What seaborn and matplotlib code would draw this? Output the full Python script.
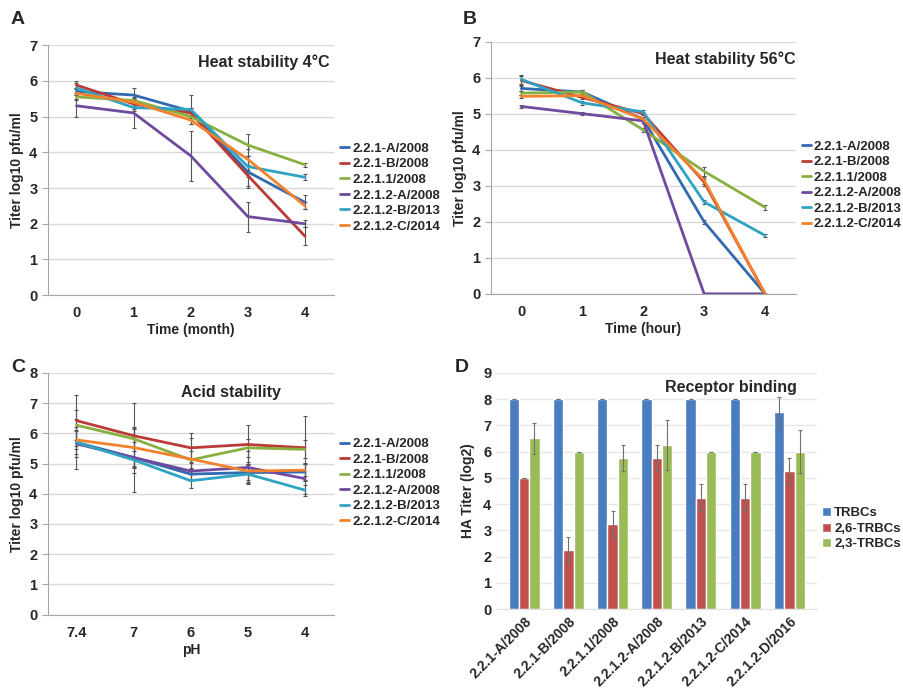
import matplotlib
matplotlib.use("Agg")
import matplotlib.pyplot as plt
import numpy as np
import pandas as pd
import seaborn as sns

# ---- data ----
strains = ['2.2.1-A/2008', '2.2.1-B/2008', '2.2.1.1/2008',
           '2.2.1.2-A/2008', '2.2.1.2-B/2013', '2.2.1.2-C/2014']
line_colors = ['#3269B0', '#BC3A36', '#88B040', '#6F4A9E', '#2FA4C2', '#F2822B']

months = ['0', '1', '2', '3', '4']
heat4 = [
    [5.70, 5.60, 5.15, 3.45, 2.60],
    [5.88, 5.35, 5.10, 3.35, 1.65],
    [5.55, 5.45, 5.00, 4.20, 3.65],
    [5.30, 5.10, 3.90, 2.20, 2.00],
    [5.80, 5.25, 5.20, 3.60, 3.30],
    [5.65, 5.40, 4.90, 3.80, 2.50],
]
heat4_err = [
    [0.10, 0.20, 0.10, 0.45, 0.20],
    [0.10, 0.15, 0.15, 0.30, 0.25],
    [0.10, 0.10, 0.10, 0.30, 0.05],
    [0.30, 0.42, 0.70, 0.42, 0.10],
    [0.15, 0.10, 0.40, 0.30, 0.08],
    [0.15, 0.10, 0.10, 0.30, 0.10],
]

hours = ['0', '1', '2', '3', '4']
heat56 = [
    [5.70, 5.60, 4.85, 2.00, 0.00],
    [5.92, 5.45, 5.00, 3.10, 0.00],
    [5.57, 5.60, 4.55, 3.40, 2.40],
    [5.20, 5.00, 4.80, 0.00, 0.00],
    [5.95, 5.30, 5.05, 2.55, 1.62],
    [5.48, 5.50, 4.85, 3.15, 0.00],
]
heat56_err = [
    [0.08, 0.05, 0.05, 0.05, 0.00],
    [0.12, 0.05, 0.05, 0.10, 0.00],
    [0.05, 0.05, 0.05, 0.12, 0.06],
    [0.05, 0.05, 0.05, 0.00, 0.00],
    [0.12, 0.05, 0.05, 0.05, 0.05],
    [0.05, 0.05, 0.05, 0.10, 0.00],
]

ph = ['7.4', '7', '6', '5', '4']
acid = [
    [5.70, 5.20, 4.65, 4.70, 4.72],
    [6.42, 5.92, 5.52, 5.63, 5.52],
    [6.27, 5.82, 5.12, 5.52, 5.47],
    [5.65, 5.20, 4.75, 4.87, 4.50],
    [5.70, 5.12, 4.43, 4.65, 4.12],
    [5.78, 5.53, 5.15, 4.75, 4.78],
]
acid_err = [
    [0.50, 0.50, 0.20, 0.30, 0.30],
    [0.85, 1.08, 0.50, 0.65, 1.05],
    [0.50, 0.40, 0.30, 0.30, 0.30],
    [0.83, 0.30, 0.30, 0.55, 0.50],
    [0.40, 1.05, 0.25, 0.30, 0.18],
    [0.30, 0.60, 0.70, 0.30, 0.20],
]

viruses = ['2.2.1-A/2008', '2.2.1-B/2008', '2.2.1.1/2008', '2.2.1.2-A/2008',
           '2.2.1.2-B/2013', '2.2.1.2-C/2014', '2.2.1.2-D/2016']
rbc_types = ['TRBCs', '2,6-TRBCs', '2,3-TRBCs']
bar_colors = ['#4A7CC0', '#C0504D', '#9BBB59']
trbc = [8, 8, 8, 8, 8, 8, 7.5]
trbc_err = [0, 0, 0, 0, 0, 0, 0.58]
trbc26 = [5, 2.25, 3.25, 5.75, 4.25, 4.25, 5.25]
trbc26_err = [0, 0.5, 0.5, 0.5, 0.5, 0.5, 0.5]
trbc23 = [6.5, 6, 5.75, 6.25, 6, 6, 6]
trbc23_err = [0.58, 0, 0.5, 0.96, 0, 0, 0.82]

# ---- style ----
sns.set_style("white")
plt.rcParams['font.family'] = ['Liberation Sans', 'DejaVu Sans']
plt.rcParams['font.weight'] = 'bold'
plt.rcParams['axes.labelweight'] = 'bold'

fig = plt.figure(figsize=(9.04, 6.93), dpi=100)

spine_c = '#A6A6A6'
grid_c = '#D9D9D9'


def line_panel(rect, cats, vals, errs, ymax, title, title_xy, title_ha,
               xlabel, leg_y):
    ax = fig.add_axes(rect)
    rows = []
    for s, v in zip(strains, vals):
        for i, y in enumerate(v):
            rows.append({'pos': i, 'titer': y, 'strain': s})
    df = pd.DataFrame(rows)
    sns.lineplot(data=df, x='pos', y='titer', hue='strain', hue_order=strains,
                 palette=line_colors, linewidth=2, ax=ax, errorbar=None)
    for v, e in zip(vals, errs):
        ax.errorbar(range(len(cats)), v, yerr=e, fmt='none', ecolor='#555555',
                    elinewidth=0.8, capsize=1.5, capthick=0.8, zorder=1)
    ax.set_xlim(-0.5, len(cats) - 0.5)
    ax.set_ylim(0, ymax)
    ax.set_yticks(range(0, ymax + 1))
    ax.set_xticks(range(len(cats)))
    ax.set_xticklabels(cats)
    ax.set_xticks(np.arange(-0.5, len(cats)), minor=True)
    ax.tick_params(axis='x', which='major', length=0, labelsize=10.5, pad=8)
    ax.tick_params(axis='x', which='minor', length=4, color=spine_c, direction='out')
    ax.tick_params(axis='y', length=4, color=spine_c, labelsize=10.5, left=True)
    ax.grid(axis='y', color=grid_c, linewidth=1)
    ax.set_axisbelow(True)
    for sp in ['top', 'right']:
        ax.spines[sp].set_visible(False)
    for sp in ['left', 'bottom']:
        ax.spines[sp].set_color(spine_c)
    ax.set_xlabel(xlabel, fontsize=10, labelpad=2)
    ax.set_ylabel('Titer log10 pfu/ml', fontsize=10, labelpad=4)
    ax.text(title_xy[0], title_xy[1], title, transform=ax.transAxes,
            ha=title_ha, va='center', fontsize=11.5, fontweight='bold')
    sns.move_legend(ax, 'center left', bbox_to_anchor=(1.0, leg_y), frameon=False,
                    title=None, fontsize=9.5, handlelength=0.7, handletextpad=0.2,
                    labelspacing=0.25, borderaxespad=0.1)
    return ax


line_panel([0.053, 0.574, 0.316, 0.361], months, heat4, heat4_err, 7,
           'Heat stability 4°C', (0.985, 0.93), 'right', 'Time (month)', 0.43)
line_panel([0.543, 0.576, 0.337, 0.364], hours, heat56, heat56_err, 7,
           'Heat stability 56°C', (1.0, 0.93), 'right', 'Time (hour)', 0.43)
line_panel([0.053, 0.113, 0.316, 0.349], ph, acid, acid_err, 8,
           'Acid stability', (0.64, 0.917), 'center', 'pH', 0.545)

# ---- panel D ----
axd = fig.add_axes([0.549, 0.121, 0.355, 0.341])
bar_rows = []
for t, v in zip(rbc_types, [trbc, trbc26, trbc23]):
    for name, y in zip(viruses, v):
        bar_rows.append({'virus': name, 'titer': y, 'type': t})
bdf = pd.DataFrame(bar_rows)
sns.barplot(data=bdf, x='virus', y='titer', hue='type', hue_order=rbc_types,
            palette=bar_colors, width=0.7, saturation=1, errorbar=None, ax=axd)
for cont, e in zip(axd.containers, [trbc_err, trbc26_err, trbc23_err]):
    xs = [p.get_x() + p.get_width() / 2 for p in cont]
    ys = [p.get_height() for p in cont]
    axd.errorbar(xs, ys, yerr=e, fmt='none', ecolor='#707070', elinewidth=0.8,
                 capsize=1.5, capthick=0.8)
axd.set_xlim(-0.63, 6.63)
axd.set_ylim(0, 9)
axd.set_yticks(range(0, 10))
axd.grid(axis='y', color='#E6E6E6', linewidth=1)
axd.set_axisbelow(True)
for sp in ['top', 'right', 'left']:
    axd.spines[sp].set_visible(False)
axd.spines['bottom'].set_color('#E0E0E0')
axd.tick_params(axis='both', length=0, labelsize=10.5)
axd.set_xticks(range(len(viruses)))
axd.set_xticklabels(viruses, rotation=45, ha='right', rotation_mode='anchor',
                    fontsize=10)
axd.set_xlabel('')
axd.set_ylabel('HA Titer (log2)', fontsize=10, labelpad=6)
axd.text(0.73, 0.94, 'Receptor binding', transform=axd.transAxes, ha='center',
         va='center', fontsize=11.5, fontweight='bold')
sns.move_legend(axd, 'center left', bbox_to_anchor=(0.995, 0.34), frameon=False,
                title=None, fontsize=9.5, handlelength=0.7, handleheight=0.7,
                handletextpad=0.2, labelspacing=0.25, borderaxespad=0.1)

# panel letters
for lab, x, y in [('A', 0.012, 0.972), ('B', 0.512, 0.972),
                  ('C', 0.012, 0.47), ('D', 0.503, 0.47)]:
    fig.text(x, y, lab, fontsize=14, fontweight='bold', ha='left', va='center')

fig.savefig('out.png', dpi=100)
